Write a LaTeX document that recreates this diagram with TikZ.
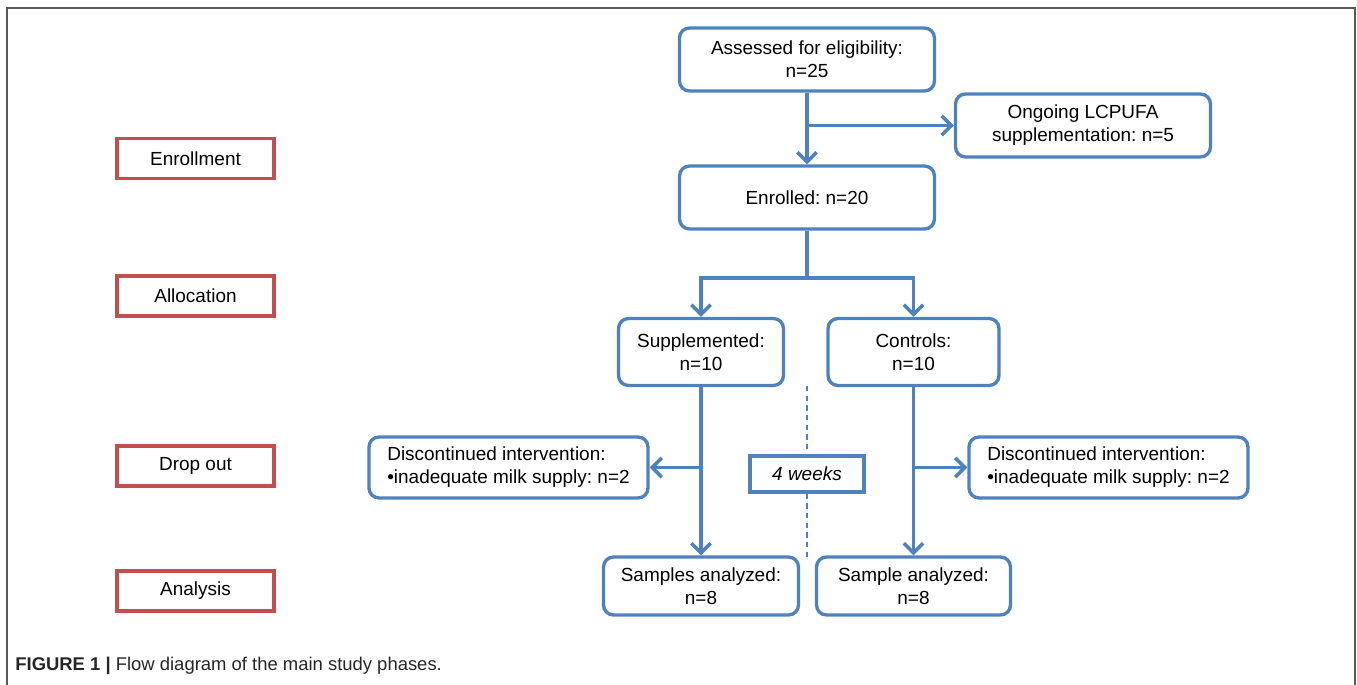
\documentclass[tikz,border=0pt]{standalone}
\usepackage{fontspec}
\setmainfont{Liberation Sans}
\usepackage{tikz}
\usetikzlibrary{arrows.meta}
\definecolor{flowblue}{RGB}{79,129,189}
\definecolor{phasered}{RGB}{192,80,77}
\definecolor{framegray}{RGB}{90,90,90}
\frenchspacing

\begin{document}
\begin{tikzpicture}[x=0.02cm,y=-0.02cm,
  box/.style={draw=flowblue,line width=1.9pt,rounded corners=0.2cm,align=center,inner sep=0pt,font=\fontsize{10.8}{13}\selectfont},
  phase/.style={draw=phasered,line width=1.9pt,minimum width=3.14cm,minimum height=0.8cm,inner sep=0pt,font=\fontsize{10.8}{13}\selectfont},
  arr/.style={draw=flowblue,line width=2pt,-{Straight Barb[length=5.5pt,width=11pt]}},
  link/.style={draw=flowblue,line width=2pt}]
\useasboundingbox (0,0) rectangle (1357,685);

% Frame
\draw[framegray,line width=0.9pt] (7,685) -- (7,8) -- (1355,8) -- (1355,685);

% Phases
\node[phase] (enroll) at (195.5,158.5) {Enrollment};
\node[phase] (alloc) at (195.5,296) {Allocation};
\node[phase] (drop) at (195.5,466) {Drop out};
\node[phase] (anal) at (195.5,591) {Analysis};

% Enrollment
\node[box,minimum width=5.1cm,minimum height=1.26cm] (assess) at (807,59.5) {Assessed for eligibility:\\n=25};
\node[box,minimum width=5.1cm,minimum height=1.26cm] (ongoing) at (1083,125.5) {Ongoing LCPUFA\\supplementation: n=5};
\node[box,minimum width=5.1cm,minimum height=1.26cm] (enrolled) at (807,197.5) {Enrolled: n=20};

% Allocation
\node[box,minimum width=3.3cm,minimum height=1.34cm] (supp) at (701,352) {Supplemented:\\n=10};
\node[box,minimum width=3.42cm,minimum height=1.34cm] (ctrl) at (913.5,352) {Controls:\\n=10};

% Drop out
\node[box,minimum width=5.58cm,minimum height=1.22cm,align=left] (dropL) at (508.5,467.5) {Discontinued intervention:\\\textbullet inadequate milk supply: n=2};
\node[box,minimum width=5.58cm,minimum height=1.22cm,align=left] (dropR) at (1108.5,467.5) {Discontinued intervention:\\\textbullet inadequate milk supply: n=2};
\node[draw=flowblue,line width=1.9pt,minimum width=2.28cm,minimum height=0.72cm,inner sep=0pt,font=\fontsize{10.8}{13}\selectfont\itshape] (weeks) at (807,474) {4 weeks};

% Analysis
\node[box,minimum width=3.9cm,minimum height=1.16cm] (sampL) at (701,586) {Samples analyzed:\\n=8};
\node[box,minimum width=3.88cm,minimum height=1.16cm] (sampR) at (913.5,586) {Sample analyzed:\\n=8};

% Connectors
\draw[arr] (assess) -- (enrolled);
\draw[arr] (assess.south |- ongoing.west) -- (ongoing.west);
\coordinate (split) at (807,278);
\draw[link] (enrolled) -- (split);
\draw[arr] (split) -| (supp.north);
\draw[arr] (split) -| (ctrl.north);
\draw[arr] (supp) -- (sampL);
\draw[arr] (ctrl) -- (sampR);
\draw[arr] (supp.south |- dropL.east) -- (dropL.east);
\draw[arr] (ctrl.south |- dropR.west) -- (dropR.west);

% Time line
\coordinate (tltop) at (807,386);
\coordinate (tlbot) at (807,557);
\draw[flowblue,line width=0.8pt,dash pattern=on 3pt off 2.5pt] (tltop) -- (weeks.north);
\draw[flowblue,line width=0.8pt,dash pattern=on 3pt off 2.5pt] (weeks.south) -- (tlbot);

% Caption
\node[anchor=west,inner sep=0pt,text=black!85,font=\fontsize{10.5}{12}\selectfont] (caption) at (15,666) {\textbf{FIGURE 1 |} Flow diagram of the main study phases.};
\end{tikzpicture}
\end{document}
